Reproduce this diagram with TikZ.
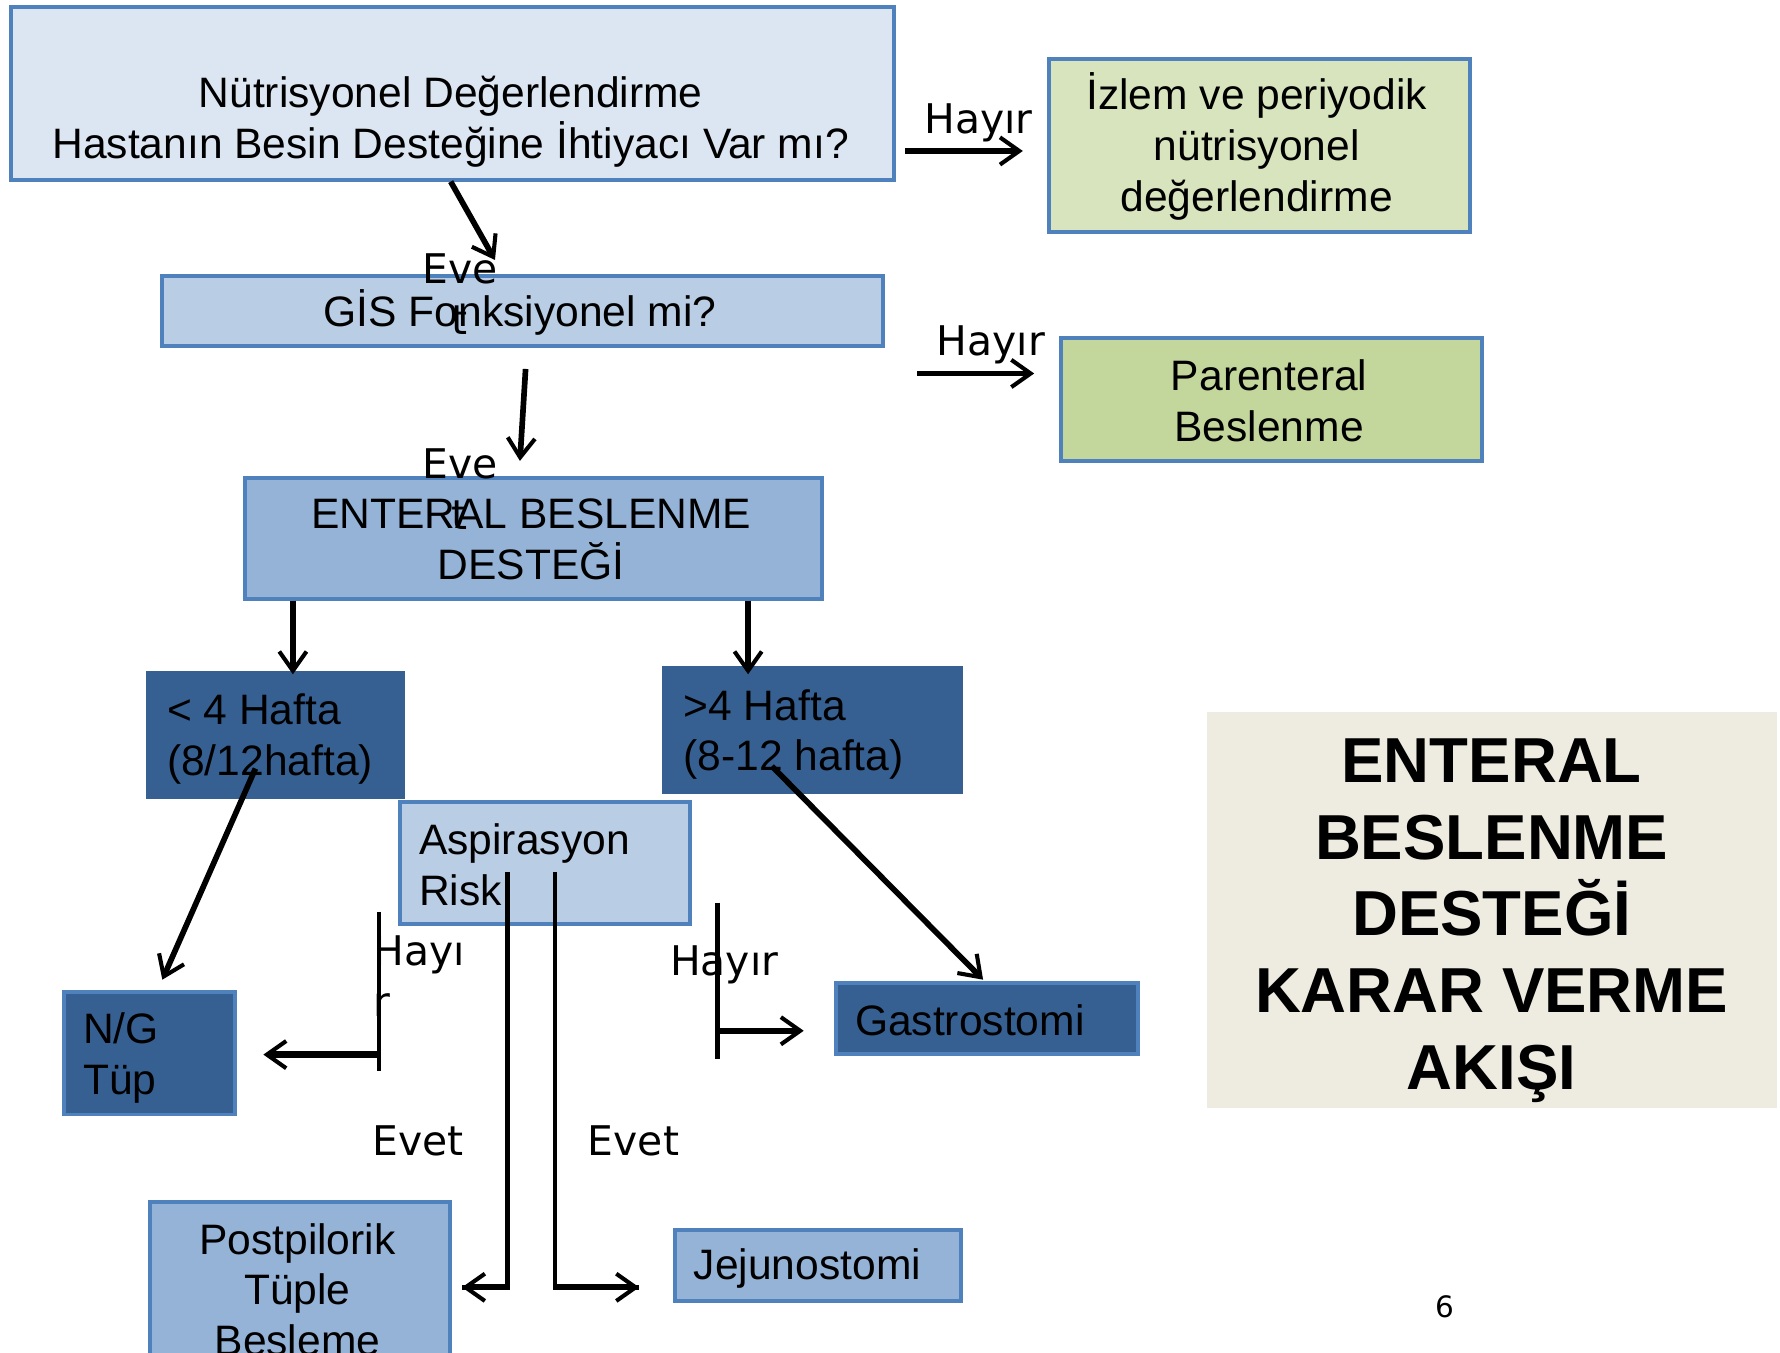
\documentclass[tikz,border=0pt]{standalone}
\usepackage{fontspec}
\setmainfont{Liberation Sans}
\newfontfamily\dv{DejaVu Sans}
\usetikzlibrary{arrows.meta}
\definecolor{bord}{HTML}{4F81BD}
\definecolor{fA}{HTML}{DCE6F2}
\definecolor{fG1}{HTML}{D7E4BD}
\definecolor{fB}{HTML}{B9CDE5}
\definecolor{fG2}{HTML}{C3D69B}
\definecolor{fC}{HTML}{95B3D7}
\definecolor{fD}{HTML}{376092}
\definecolor{fT}{HTML}{EEECE1}
\tikzset{
  box/.style={draw=bord, line width=3.5pt, inner sep=0pt, anchor=north west, rectangle},
  dbox/.style={box, fill=fD, draw=fD},
  txt/.style={inner sep=0pt, font=\fontsize{37.5}{44.5}\selectfont, align=center},
  ltxt/.style={inner sep=0pt, font=\fontsize{37.5}{44.5}\selectfont, align=left, anchor=west},
  lab/.style={inner sep=0pt, font=\dv\fontsize{36}{45}\selectfont, align=center},
  conn/.style={line width=5pt, -{Straight Barb[length=17pt,width=24pt,line width=3.6pt]}},
  plain/.style={line width=4pt}
}
\begin{document}
\begin{tikzpicture}[x=1pt,y=-1pt]
\useasboundingbox (0,0) rectangle (1568,1191);
% boxes
\node[box, fill=fA, minimum width=778, minimum height=153] (b1) at (8,4) {};
\node[txt] (t1) at (397,107) {Nütrisyonel Değerlendirme\\Hastanın Besin Desteğine İhtiyacı Var mı?};
\node[box, fill=fG1, minimum width=371, minimum height=153] (b2) at (922,50) {};
\node[txt] (t2) at (1107,129) {İzlem ve periyodik\\nütrisyonel\\değerlendirme};
\node[box, fill=fB, minimum width=635, minimum height=62] (b3) at (141,241) {};
\node[txt] (t3) at (458,275) {GİS Fonksiyonel mi?};
\node[box, fill=fG2, minimum width=371, minimum height=108] (b4) at (933,296) {};
\node[txt] (t4) at (1118,353) {Parenteral\\Beslenme};
\node[box, fill=fC, minimum width=508, minimum height=107] (b5) at (214,419) {};
\node[txt] (t5) at (468,475) {ENTERAL BESLENME\\DESTEĞİ};
\node[dbox, minimum width=224, minimum height=109] (b6) at (129,591) {};
\node[ltxt] (t6) at (147,651) {< 4 Hafta\\(8/12hafta)};
\node[dbox, minimum width=262, minimum height=109] (b7) at (583,587) {};
\node[ltxt] (t7) at (602,647) {>4 Hafta\\(8-12 hafta)};
\node[box, fill=fB, minimum width=255, minimum height=107] (b8) at (351,705) {};
\node[ltxt] (t8) at (369,762) {Aspirasyon\\Risk};
\node[box, fill=fD, minimum width=150, minimum height=108] (b9) at (55,872) {};
\node[ltxt] (t9) at (73,932) {N/G\\Tüp};
\node[box, fill=fD, minimum width=266, minimum height=63] (b10) at (735,864) {};
\node[ltxt] (t10) at (753,899) {Gastrostomi};
\node[box, fill=fC, minimum width=265, minimum height=170] (b11) at (130,1057) {};
\node[txt] (t11) at (262,1136) {Postpilorik\\Tüple\\Besleme};
\node[box, fill=fC, minimum width=252, minimum height=62] (b12) at (593,1082) {};
\node[ltxt] (t12) at (611,1117) {Jejunostomi};
% title
\node[rectangle, fill=fT, inner sep=0pt, minimum width=502, minimum height=349, anchor=north west] (tb) at (1063,627) {};
\node[inner sep=0pt, align=center, font=\bfseries\fontsize{56}{67.5}\selectfont] (title) at (1314,811) {ENTERAL\\BESLENME\\DESTEĞİ \\KARAR VERME\\AKIŞI};
\node[inner sep=0pt, font=\dv\fontsize{26}{30}\selectfont] (pg) at (1273,1151) {6};
% connector coordinates
\coordinate (c1a) at (797,133); \coordinate (c1b) at (901,133);
\coordinate (c2a) at (397,160); \coordinate (c2b) at (436,229);
\coordinate (c3a) at (808,329); \coordinate (c3b) at (911,329);
\coordinate (c4a) at (463,325); \coordinate (c4b) at (458,406);
\coordinate (c5a) at (258,529); \coordinate (c5b) at (258,594);
\coordinate (c6a) at (659,529); \coordinate (c6b) at (659,594);
\coordinate (c7a) at (225,677); \coordinate (c7b) at (143,863);
\coordinate (c8a) at (680,675); \coordinate (c8b) at (866,863);
\coordinate (c9t) at (334,803); \coordinate (c9b) at (334,943);
\coordinate (c9m) at (334,929); \coordinate (c9e) at (232,929);
\coordinate (c10t) at (632,795); \coordinate (c10b) at (632,933);
\coordinate (c10m) at (632,908); \coordinate (c10e) at (708,908);
\coordinate (c11t) at (447,768); \coordinate (c11e) at (407,1134);
\coordinate (c12t) at (489,768); \coordinate (c12e) at (563,1134);
% connectors
\draw[conn] (c1a) -- (c1b);
\draw[conn] (c2a) -- (c2b);
\draw[conn] (c3a) -- (c3b);
\draw[conn] (c4a) -- (c4b);
\draw[conn] (c5a) -- (c5b);
\draw[conn] (c6a) -- (c6b);
\draw[conn] (c7a) -- (c7b);
\draw[conn] (c8a) -- (c8b);
\draw[plain] (c9t) -- (c9b);
\draw[conn, line width=5.5pt] (c9m) -- (c9e);
\draw[plain] (c10t) -- (c10b);
\draw[conn, line width=5.5pt] (c10m) -- (c10e);
\draw[plain] (c11t) |- (c11e);
\draw[conn, line width=5.5pt] (c11e -| c11t) -- (c11e);
\draw[plain] (c12t) |- (c12e);
\draw[conn, line width=5.5pt] (c12e -| c12t) -- (c12e);
% labels
\node[lab] (l1) at (862,108) {Hayır};
\node[lab] (l2) at (873,304) {Hayır};
\node[lab] (l3) at (405,259) {Eve\\t};
\node[lab] (l4) at (405,431) {Eve\\t};
\node[lab, align=left, anchor=west] (l5) at (329,860) {Hayı\\r};
\node[lab] (l6) at (638,850) {Hayır};
\node[lab] (l7) at (368,1005) {Evet};
\node[lab] (l8) at (558,1005) {Evet};
\end{tikzpicture}
\end{document}
